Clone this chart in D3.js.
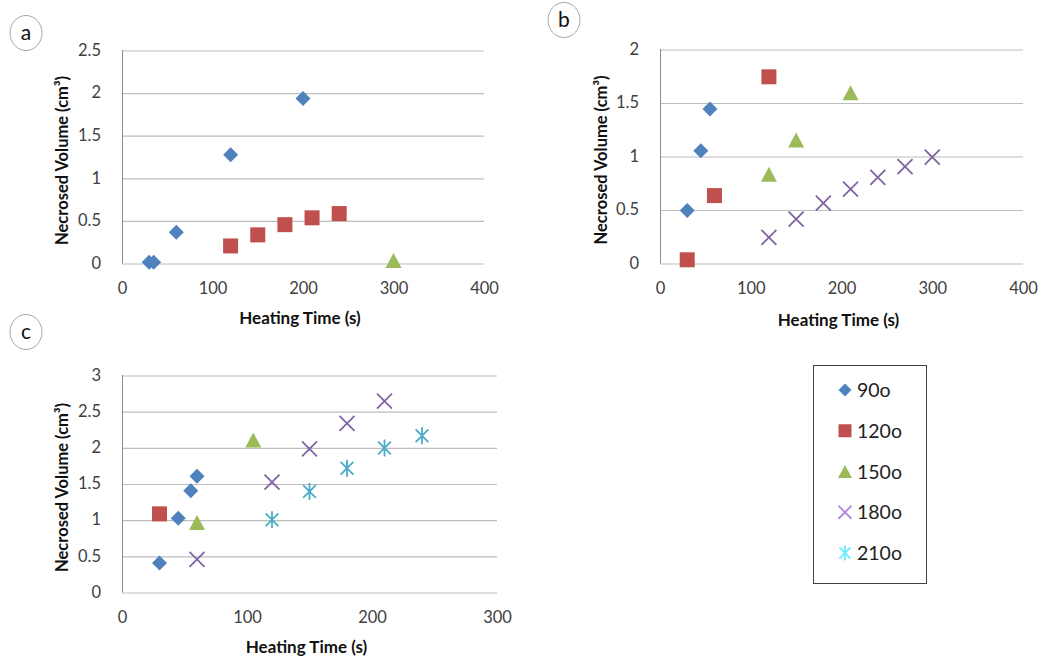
<!DOCTYPE html>
<html>
<head>
<meta charset="utf-8">
<script src="https://cdn.jsdelivr.net/npm/d3@7"></script>
<style>
  html, body { margin: 0; padding: 0; background: #fff; }
  svg { display: block; }
  text { font-family: Lato, "Open Sans", "Liberation Sans", sans-serif; }
</style>
</head>
<body>
<svg id="chart" width="1041" height="659"></svg>
<script>
// Series names and colours (shared by all three panels and the legend)
const seriesNames = ["90o", "120o", "150o", "180o", "210o"];
const seriesColors = ["#4f81bd", "#c0504d", "#9bbb59", "#8064a2", "#4bacc6"];
const seriesShapes = ["diamond", "square", "triangle", "cross", "star"];

// Panel a
const aTime90 = [30, 35, 60, 120, 200];
const aVol90 = [0.01, 0.01, 0.36, 1.27, 1.93];
const aTime120 = [120, 150, 180, 210, 240];
const aVol120 = [0.2, 0.33, 0.45, 0.53, 0.58];
const aTime150 = [300];
const aVol150 = [0.03];

// Panel b
const bTime90 = [30, 45, 55];
const bVol90 = [0.49, 1.05, 1.44];
const bTime120 = [30, 60, 120];
const bVol120 = [0.03, 0.63, 1.74];
const bTime150 = [120, 150, 210];
const bVol150 = [0.83, 1.15, 1.59];
const bTime180 = [120, 150, 180, 210, 240, 270, 300];
const bVol180 = [0.24, 0.41, 0.56, 0.69, 0.8, 0.9, 0.99];

// Panel c
const cTime90 = [30, 45, 55, 60];
const cVol90 = [0.4, 1.02, 1.4, 1.6];
const cTime120 = [30];
const cVol120 = [1.08];
const cTime150 = [60, 105];
const cVol150 = [0.96, 2.1];
const cTime180 = [60, 120, 150, 180, 210];
const cVol180 = [0.45, 1.52, 1.98, 2.33, 2.64];
const cTime210 = [120, 150, 180, 210, 240];
const cVol210 = [1.0, 1.39, 1.71, 1.99, 2.16];

// Axis tick values
const xTicks400 = [0, 100, 200, 300, 400];
const xTicks300 = [0, 100, 200, 300];
const yTicksA = [0, 0.5, 1, 1.5, 2, 2.5];
const yTicksB = [0, 0.5, 1, 1.5, 2];
const yTicksC = [0, 0.5, 1, 1.5, 2, 2.5, 3];

const xTitle = "Heating Time (s)";
const yTitle = "Necrosed Volume (cm³)";

const svg = d3.select("#chart");

function zip(xs, ys) { return xs.map((x, i) => ({ x, y: ys[i] })); }

// Draws one marker shape centred at the origin of g
function drawMarker(g, shape, color, s) {
  const h = s / 2;
  if (shape === "diamond") {
    g.append("path").attr("d", `M0,${-h}L${h},0L0,${h}L${-h},0Z`).attr("fill", color);
  } else if (shape === "square") {
    g.append("rect").attr("x", -h).attr("y", -h).attr("width", s).attr("height", s).attr("fill", color);
  } else if (shape === "triangle") {
    g.append("path").attr("d", `M0,${-h}L${h + 0.5},${h}L${-h - 0.5},${h}Z`).attr("fill", color);
  } else if (shape === "cross") {
    g.append("path").attr("d", `M${-h},${-h}L${h},${h}M${h},${-h}L${-h},${h}`)
      .attr("stroke", color).attr("stroke-width", 1.8).attr("fill", "none");
  } else if (shape === "star") {
    const k = h * 0.85;
    g.append("path").attr("d", `M${-k},${-k}L${k},${k}M${k},${-k}L${-k},${k}M0,${-h - 1}L0,${h + 1}`)
      .attr("stroke", color).attr("stroke-width", 1.8).attr("fill", "none");
  }
}

function drawPanel(p) {
  const x = d3.scaleLinear().domain(p.xDomain).range([p.left, p.right]);
  const y = d3.scaleLinear().domain(p.yDomain).range([p.bottom, p.top]);
  const g = svg.append("g");

  // horizontal gridlines
  g.append("g")
    .attr("transform", `translate(${p.left},0.5)`)
    .call(d3.axisLeft(y).tickValues(p.yTicks).tickSize(-(p.right - p.left)).tickFormat(""))
    .call(a => a.select(".domain").remove())
    .call(a => a.selectAll("line").attr("stroke", "#bdbdbd").attr("stroke-width", 1.2));

  // vertical axis line
  g.append("line")
    .attr("x1", p.left + 0.5).attr("x2", p.left + 0.5)
    .attr("y1", p.top).attr("y2", p.bottom + 0.5)
    .attr("stroke", "#8c8c8c").attr("stroke-width", 1);

  // y tick labels
  g.append("g")
    .attr("transform", `translate(${p.left - 18},0)`)
    .call(d3.axisLeft(y).tickValues(p.yTicks).tickSize(0).tickFormat(d3.format("")))
    .call(a => a.select(".domain").remove())
    .call(a => a.selectAll("text").attr("font-size", 16.5).attr("fill", "#404040")
      .attr("font-family", "Lato, 'Open Sans', sans-serif").attr("dx", 0));

  // x tick labels
  g.append("g")
    .attr("transform", `translate(0,${p.bottom + 16})`)
    .call(d3.axisBottom(x).tickValues(p.xTicks).tickSize(0).tickFormat(d3.format("")))
    .call(a => a.select(".domain").remove())
    .call(a => a.selectAll("text").attr("font-size", 16.5).attr("fill", "#404040")
      .attr("font-family", "Lato, 'Open Sans', sans-serif"));

  // axis titles
  g.append("text")
    .attr("x", (p.left + p.right) / 2 - 3).attr("y", p.xTitleY)
    .attr("text-anchor", "middle").attr("font-weight", "bold").attr("font-size", 17)
    .attr("fill", "#111").text(xTitle);
  g.append("text")
    .attr("transform", `translate(${p.yTitleX},${(p.top + p.bottom) / 2 + 4}) rotate(-90)`)
    .attr("text-anchor", "middle").attr("font-weight", "bold").attr("font-size", 16.5)
    .attr("fill", "#111").text(yTitle);

  // data markers
  p.series.forEach(s => {
    const idx = seriesNames.indexOf(s.name);
    g.append("g").selectAll("g").data(s.points).join("g")
      .attr("transform", d => `translate(${x(d.x)},${y(d.y)})`)
      .each(function () { drawMarker(d3.select(this), seriesShapes[idx], seriesColors[idx], 15); });
  });

  // panel letter in a circle
  g.append("ellipse").attr("cx", p.labelX).attr("cy", p.labelY).attr("rx", 16).attr("ry", 17.5)
    .attr("fill", "#fff").attr("stroke", "#a6a6a6").attr("stroke-width", 1);
  g.append("text").attr("x", p.labelX).attr("y", p.labelY + 7).attr("text-anchor", "middle")
    .attr("font-size", 21).attr("fill", "#111").text(p.label);
}

drawPanel({
  label: "a", labelX: 26, labelY: 33,
  left: 122, right: 484, top: 50, bottom: 263,
  xDomain: [0, 400], yDomain: [0, 2.5], xTicks: xTicks400, yTicks: yTicksA,
  xTitleY: 324, yTitleX: 68,
  series: [
    { name: "90o", points: zip(aTime90, aVol90) },
    { name: "120o", points: zip(aTime120, aVol120) },
    { name: "150o", points: zip(aTime150, aVol150) }
  ]
});

drawPanel({
  label: "b", labelX: 564, labelY: 20,
  left: 660, right: 1023, top: 49, bottom: 263,
  xDomain: [0, 400], yDomain: [0, 2], xTicks: xTicks400, yTicks: yTicksB,
  xTitleY: 326, yTitleX: 607,
  series: [
    { name: "90o", points: zip(bTime90, bVol90) },
    { name: "120o", points: zip(bTime120, bVol120) },
    { name: "150o", points: zip(bTime150, bVol150) },
    { name: "180o", points: zip(bTime180, bVol180) }
  ]
});

drawPanel({
  label: "c", labelX: 26, labelY: 332,
  left: 122, right: 497, top: 375, bottom: 592,
  xDomain: [0, 300], yDomain: [0, 3], xTicks: xTicks300, yTicks: yTicksC,
  xTitleY: 653, yTitleX: 68,
  series: [
    { name: "90o", points: zip(cTime90, cVol90) },
    { name: "120o", points: zip(cTime120, cVol120) },
    { name: "150o", points: zip(cTime150, cVol150) },
    { name: "180o", points: zip(cTime180, cVol180) },
    { name: "210o", points: zip(cTime210, cVol210) }
  ]
});

// Legend
const legend = svg.append("g");
legend.append("rect").attr("x", 813.5).attr("y", 365.5).attr("width", 113).attr("height", 218)
  .attr("fill", "#fff").attr("stroke", "#404040").attr("stroke-width", 1);
const legendY = d3.scalePoint().domain(seriesNames).range([390, 553]);
seriesNames.forEach((name, i) => {
  const row = legend.append("g").attr("transform", `translate(845,${legendY(name)})`);
  drawMarker(row, seriesShapes[i], i >= 3 ? d3.color(seriesColors[i]).brighter(0.9).formatHex() : seriesColors[i], 13);
  row.append("text").attr("x", 12).attr("y", 7).attr("font-size", 19.5).attr("fill", "#222").text(name);
});
</script>
</body>
</html>
